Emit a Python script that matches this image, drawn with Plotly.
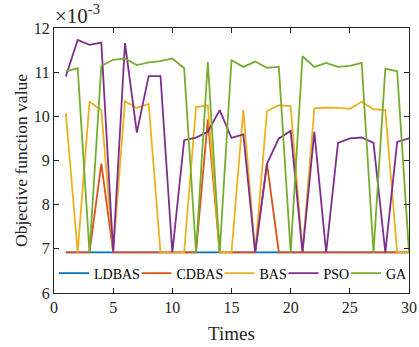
import plotly.graph_objects as go

times = list(range(1, 31))

ldbas = [6.92, 6.92, 6.92, 6.92, 6.92, 6.92, 6.92, 6.92, 6.92, 6.92,
         6.92, 6.92, 6.92, 6.92, 6.92, 6.92, 6.92, 6.92, 6.92, 6.92,
         6.92, 6.92, 6.92, 6.92, 6.92, 6.92, 6.92, 6.92, 6.92, 6.92]
cdbas = [6.92, 6.92, 6.92, 8.93, 6.92, 6.92, 6.92, 6.92, 6.92, 6.92,
         6.92, 6.92, 9.93, 6.92, 6.92, 6.92, 6.92, 8.93, 6.92, 6.92,
         6.92, 6.92, 6.92, 6.92, 6.92, 6.92, 6.92, 6.92, 6.92, 6.92]
bas = [10.07, 6.92, 10.33, 10.14, 6.92, 10.34, 10.19, 10.28, 6.92, 6.92,
       6.92, 10.21, 10.25, 6.92, 6.92, 10.15, 6.92, 10.12, 10.25, 10.23,
       6.92, 10.18, 10.20, 10.19, 10.17, 10.33, 10.16, 10.14, 6.92, 6.92]
pso = [10.90, 11.73, 11.62, 11.67, 6.92, 11.66, 9.63, 10.91, 10.91, 6.92,
       9.46, 9.52, 9.65, 10.14, 9.51, 9.59, 6.92, 8.93, 9.50, 9.67,
       6.92, 9.65, 6.92, 9.40, 9.50, 9.52, 9.40, 6.92, 9.42, 9.50]
ga = [11.02, 11.09, 6.92, 11.14, 11.28, 11.31, 11.16, 11.22, 11.25, 11.31,
      11.09, 6.92, 11.23, 6.92, 11.27, 11.12, 11.24, 11.10, 11.12, 6.92,
      11.36, 11.12, 11.21, 11.12, 11.14, 11.21, 6.92, 11.08, 11.02, 6.92]

names = ["LDBAS", "CDBAS", "BAS", "PSO", "GA"]
series = [ldbas, cdbas, bas, pso, ga]
colors = ["#0072BD", "#D95319", "#EDB120", "#7E2F8E", "#77AC30"]
leg_w = [37.5, 38, 19, 17.5, 21]

x_ticks = [0, 5, 10, 15, 20, 25, 30]
y_ticks = [6, 7, 8, 9, 10, 11, 12]

FONT = "Liberation Serif, Times New Roman, serif"
INK = "#262626"

fig = go.Figure()
for n, s, c, w in zip(names, series, colors, leg_w):
    fig.add_trace(go.Scatter(x=times, y=s, mode="lines", name=n,
                             line=dict(color=c, width=1.8),
                             legendwidth=w))

axis_common = dict(showline=True, linecolor=INK, linewidth=1, mirror="allticks",
                   ticks="inside", ticklen=5, tickcolor=INK, tickwidth=1,
                   showgrid=False, zeroline=False,
                   tickfont=dict(family=FONT, size=16, color=INK))

fig.update_xaxes(range=[0, 30], tickvals=x_ticks,
                 title=dict(text="Times", font=dict(family=FONT, size=19, color=INK), standoff=11),
                 **axis_common)
fig.update_yaxes(range=[6, 12], tickvals=y_ticks,
                 title=dict(text="Objective function value", font=dict(family=FONT, size=17.5, color=INK), standoff=1),
                 **axis_common)

fig.add_annotation(text="×10<sup>-3</sup>", xref="paper", yref="paper", x=0, y=1,
                   xanchor="left", yanchor="bottom", showarrow=False, xshift=-1, yshift=-2,
                   font=dict(family=FONT, size=21, color=INK))

fig.update_layout(
    width=419, height=347,
    margin=dict(l=54, r=10, t=28, b=54, autoexpand=False),
    paper_bgcolor="white", plot_bgcolor="white",
    font=dict(family=FONT, color=INK),
    legend=dict(orientation="h", x=0, xanchor="left", y=0.134, yanchor="top",
                bgcolor="rgba(0,0,0,0)", borderwidth=0,
                font=dict(family=FONT, size=14, color="black")),
)

fig.write_html("out.html")
